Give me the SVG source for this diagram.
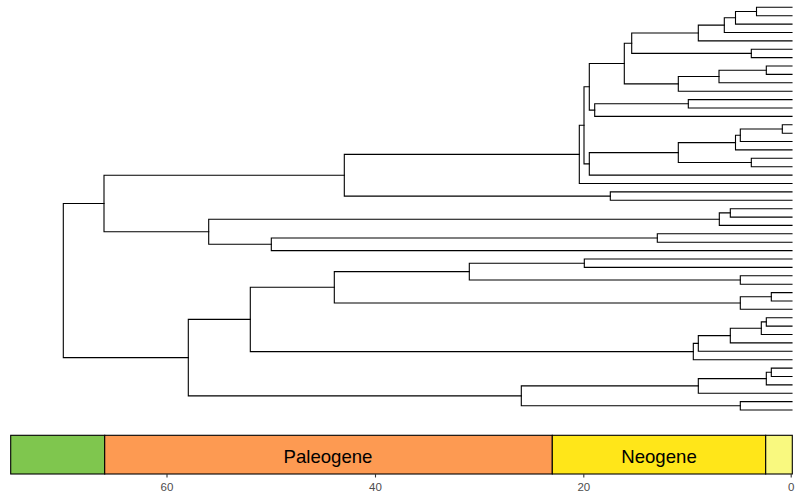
<svg xmlns="http://www.w3.org/2000/svg" width="800" height="500" viewBox="0 0 800 500">
<style>
.e{fill:none;stroke:#000;stroke-width:1.1;stroke-linecap:square}
.per{stroke:#000;stroke-width:1.1}
.lab{font-family:"Liberation Sans",Arial,sans-serif;font-size:18.6px;fill:#000;text-anchor:middle}
.tk{stroke:#333;stroke-width:1.1}
.tl{font-family:"Liberation Sans",Arial,sans-serif;font-size:11.5px;fill:#4D4D4D;text-anchor:middle}
</style>
<rect width="800" height="500" fill="#fff"/>
<g id="connectors">
<path class="e" d="M792,7.3H756.5V15.7H792"/>
<path class="e" d="M756.5,11.5H735.5V24.1H792"/>
<path class="e" d="M735.5,17.8H724.3V32.5H792"/>
<path class="e" d="M724.3,25.1H698.3V40.9H792"/>
<path class="e" d="M792,49.3H751.3V57.6H792"/>
<path class="e" d="M698.3,33H631.7V53.4H751.3"/>
<path class="e" d="M792,66H766.3V74.4H792"/>
<path class="e" d="M766.3,70.2H719V82.8H792"/>
<path class="e" d="M719,76.5H678.3V91.2H792"/>
<path class="e" d="M631.7,43.2H624.3V83.9H678.3"/>
<path class="e" d="M792,99.6H688.3V108H792"/>
<path class="e" d="M688.3,103.8H594.7V116.4H792"/>
<path class="e" d="M624.3,63.5H589.3V110.1H594.7"/>
<path class="e" d="M792,124.8H782.3V133.2H792"/>
<path class="e" d="M782.3,129H740.3V141.5H792"/>
<path class="e" d="M740.3,135.3H735.5V149.9H792"/>
<path class="e" d="M792,158.3H751.3V166.7H792"/>
<path class="e" d="M735.5,142.6H678.3V162.5H751.3"/>
<path class="e" d="M678.3,152.6H589.3V175.1H792"/>
<path class="e" d="M589.3,86.8H584V163.9H589.3"/>
<path class="e" d="M584,125.3H579.3V183.5H792"/>
<path class="e" d="M792,191.9H610.3V200.3H792"/>
<path class="e" d="M579.3,154.4H344.3V196.1H610.3"/>
<path class="e" d="M792,208.7H730.3V217.1H792"/>
<path class="e" d="M730.3,212.9H719.3V225.4H792"/>
<path class="e" d="M792,233.8H657.3V242.2H792"/>
<path class="e" d="M657.3,238H271.3V250.6H792"/>
<path class="e" d="M719.3,219.2H208.7V244.3H271.3"/>
<path class="e" d="M344.3,175.3H104V231.8H208.7"/>
<path class="e" d="M792,259H584.3V267.4H792"/>
<path class="e" d="M792,275.8H740.3V284.2H792"/>
<path class="e" d="M584.3,263.2H469.3V280H740.3"/>
<path class="e" d="M792,292.6H771.3V301H792"/>
<path class="e" d="M771.3,296.8H740.3V309.3H792"/>
<path class="e" d="M469.3,271.6H334.3V303H740.3"/>
<path class="e" d="M792,317.7H766.3V326.1H792"/>
<path class="e" d="M766.3,321.9H761.3V334.5H792"/>
<path class="e" d="M761.3,328.2H730.3V342.9H792"/>
<path class="e" d="M730.3,335.6H698.3V351.3H792"/>
<path class="e" d="M698.3,343.4H693.3V359.7H792"/>
<path class="e" d="M334.3,287.3H250.3V351.6H693.3"/>
<path class="e" d="M792,368.1H771.3V376.5H792"/>
<path class="e" d="M771.3,372.3H766.3V384.9H792"/>
<path class="e" d="M766.3,378.6H698.3V393.2H792"/>
<path class="e" d="M792,401.6H740.3V410H792"/>
<path class="e" d="M698.3,385.9H521.3V405.8H740.3"/>
<path class="e" d="M250.3,319.4H188.3V395.9H521.3"/>
<path class="e" d="M104,203.5H63.3V357.6H188.3"/>
</g>
<g id="timescale">
<g id="cretaceous"><rect class="per" x="10.7" y="435.3" width="94" height="38.7" fill="#7FC64E"/></g>
<g id="paleogene"><rect class="per" x="104.7" y="435.3" width="447.6" height="38.7" fill="#FD9A52"/><text class="lab" x="328" y="462.7">Paleogene</text></g>
<g id="neogene"><rect class="per" x="552.3" y="435.3" width="213.4" height="38.7" fill="#FFE619"/><text class="lab" x="659" y="462.7">Neogene</text></g>
<g id="quaternary"><rect class="per" x="765.7" y="435.3" width="26.6" height="38.7" fill="#F9F97F"/></g>
</g>
<g id="axis">
<line class="tk" x1="167" y1="474" x2="167" y2="477.5"/>
<line class="tk" x1="375.5" y1="474" x2="375.5" y2="477.5"/>
<line class="tk" x1="583.8" y1="474" x2="583.8" y2="477.5"/>
<line class="tk" x1="791.2" y1="474" x2="791.2" y2="477.5"/>
<text class="tl" x="167" y="491">60</text>
<text class="tl" x="375.5" y="491">40</text>
<text class="tl" x="583.8" y="491">20</text>
<text class="tl" x="791.2" y="491">0</text>
</g>
</svg>
